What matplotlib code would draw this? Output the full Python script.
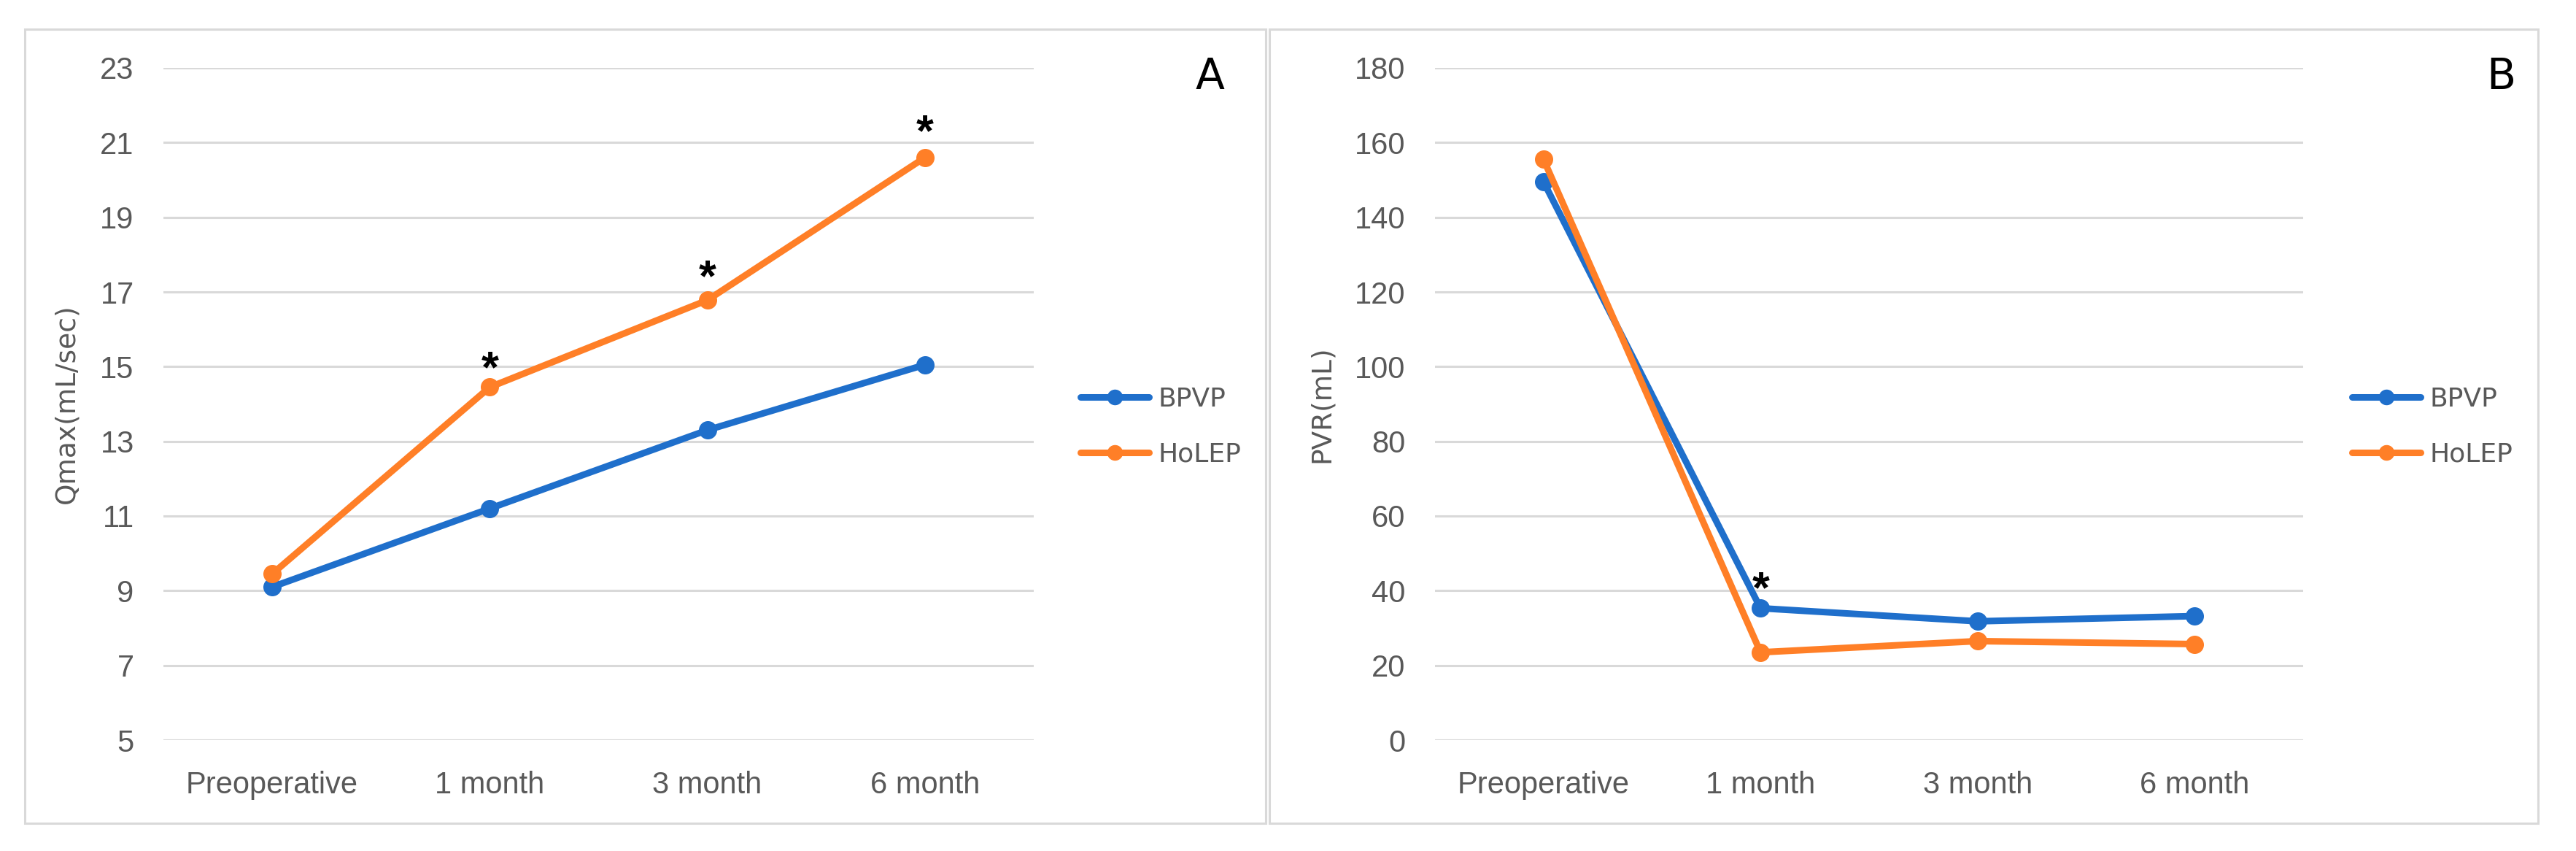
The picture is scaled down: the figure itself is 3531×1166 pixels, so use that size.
import matplotlib
matplotlib.use("Agg")
import matplotlib.pyplot as plt
from matplotlib.patches import Rectangle

categories = ["Preoperative", "1 month", "3 month", "6 month"]
series_names = ["BPVP", "HoLEP"]

qmax_bpvp = [9.1, 11.2, 13.3, 15.05]
qmax_holep = [9.45, 14.45, 16.78, 20.6]
qmax_star_idx = [1, 2, 3]
qmax_star_y = [15.3, 17.75, 21.65]
qmax_ticks = [5, 7, 9, 11, 13, 15, 17, 19, 21, 23]

pvr_bpvp = [149.5, 35.3, 31.8, 33.2]
pvr_holep = [155.5, 23.5, 26.5, 25.7]
pvr_star_idx = [1]
pvr_star_y = [44]
pvr_ticks = [0, 20, 40, 60, 80, 100, 120, 140, 160, 180]

BLUE = "#1F6FCB"
ORANGE = "#FF7F27"
GRID = "#D9D9D9"
TXT = "#595959"

W, H = 3531, 1166
fig = plt.figure(figsize=(W / 100, H / 100), dpi=100)
fig.patch.set_facecolor("white")

tick_font = ["Liberation Sans", "DejaVu Sans"]


def fx(px):
    return px / W


def fy(py):
    return 1 - py / H


# panel frames
for x0, x1 in [(34, 1735), (1740, 3479)]:
    fig.add_artist(Rectangle((fx(x0), fy(1128)), fx(x1) - fx(x0), fy(40) - fy(1128),
                             transform=fig.transFigure, fill=False,
                             edgecolor=GRID, linewidth=2.2))


def panel(left_px, right_px, ticks, b, o, star_idx, star_y, ylabel, ylabel_x, letter, letter_x, leg_x):
    ax = fig.add_axes([fx(left_px), fy(1014), fx(right_px) - fx(left_px), fy(93) - fy(1014)])
    x = range(len(categories))
    ax.plot(x, b, color=BLUE, lw=6.5, marker="o", ms=17, label=series_names[0],
            solid_capstyle="round", zorder=3)
    ax.plot(x, o, color=ORANGE, lw=6.5, marker="o", ms=17, label=series_names[1],
            solid_capstyle="round", zorder=3)
    ax.set_xlim(-0.5, len(categories) - 0.5)
    ax.set_ylim(ticks[0], ticks[-1])
    ax.set_yticks(ticks)
    ax.set_xticks(list(x))
    ax.set_xticklabels(categories)
    for s in ax.spines.values():
        s.set_visible(False)
    ax.grid(axis="y", color=GRID, lw=2.2)
    ax.set_axisbelow(True)
    ax.tick_params(axis="both", length=0, colors=TXT, labelsize=30)
    ax.tick_params(axis="y", pad=29)
    ax.tick_params(axis="x", pad=30)
    for lab in ax.get_xticklabels() + ax.get_yticklabels():
        lab.set_family(tick_font)
    ax.set_ylabel(ylabel, fontsize=27, color=TXT, family="DejaVu Sans")
    ax.yaxis.set_label_coords((ylabel_x - left_px) / (right_px - left_px), 0.5)
    fs = 44
    for i, yv in zip(star_idx, star_y):
        ax.annotate("*", xy=(i, yv), xytext=(0, -0.6 * fs), textcoords="offset points",
                    ha="center", va="baseline", fontsize=fs, color="black",
                    family=["Liberation Sans", "DejaVu Sans"], fontweight="bold")
    fig.text(fx(letter_x), fy(106), letter, fontsize=42, color="black",
             ha="center", va="center", family="DejaVu Sans")
    leg = ax.legend(loc="center left", bbox_to_anchor=(fx(leg_x), fy(584.5)),
                    bbox_transform=fig.transFigure, frameon=False, fontsize=26,
                    handlelength=2.6, handletextpad=0.35, labelspacing=1.15,
                    borderpad=0, borderaxespad=0, numpoints=1, markerscale=0.85)
    for t in leg.get_texts():
        t.set_color(TXT)
    return ax


panel(224, 1417, qmax_ticks, qmax_bpvp, qmax_holep, qmax_star_idx, qmax_star_y,
      "Qmax(mL/sec)", 109, "A", 1658, 1481)
panel(1967, 3157, pvr_ticks, pvr_bpvp, pvr_holep, pvr_star_idx, pvr_star_y,
      "PVR(mL)", 1830, "B", 3428, 3224)

fig.savefig("out.png", dpi=100, facecolor="white")
